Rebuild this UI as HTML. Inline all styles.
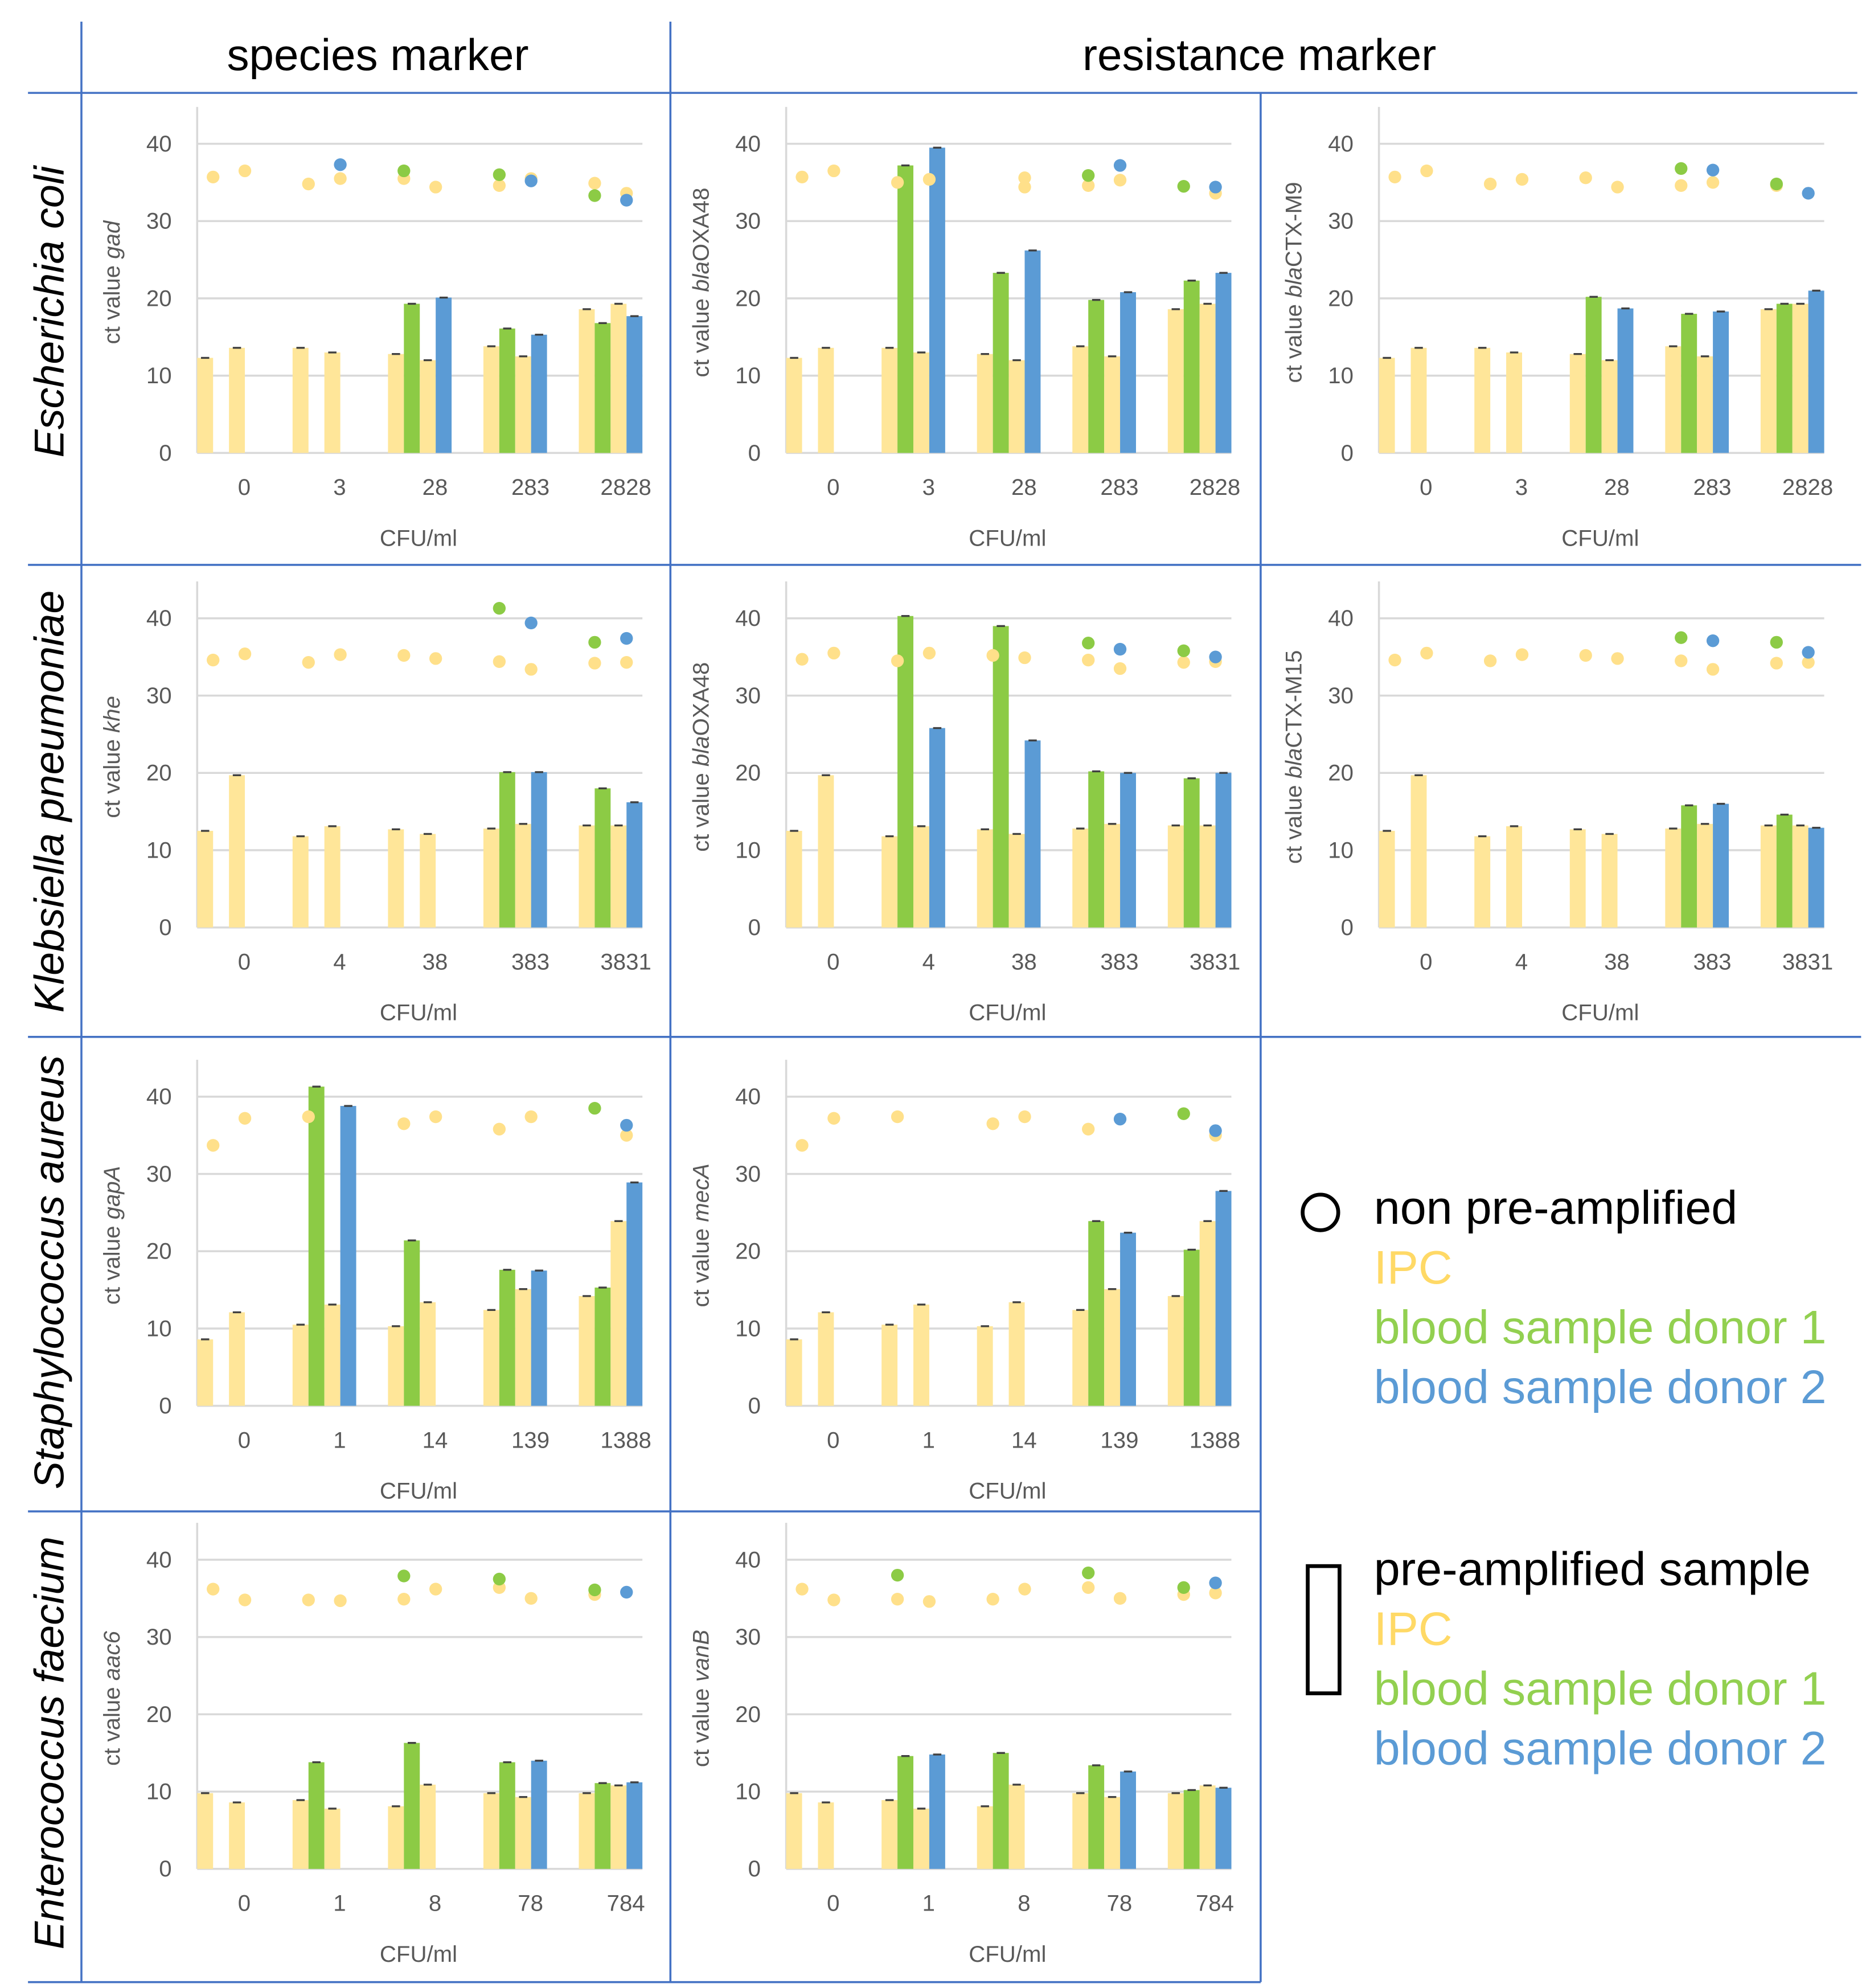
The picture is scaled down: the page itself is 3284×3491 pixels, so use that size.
<!DOCTYPE html>
<html><head><meta charset="utf-8"><style>
html,body{margin:0;padding:0;background:#fff;}
svg{display:block;}
</style></head><body>
<svg id="fig" xmlns="http://www.w3.org/2000/svg" width="3284" height="3491" viewBox="0 0 1470 1562.6" font-family="Liberation Sans, sans-serif">
<g id="grid-lines" stroke="#4472C4" stroke-width="1.6">
<line x1="64" y1="17" x2="64" y2="1558"/>
<line x1="527" y1="17" x2="527" y2="1558"/>
<line x1="991" y1="73" x2="991" y2="1558"/>
<line x1="22" y1="73" x2="1460" y2="73"/>
<line x1="22" y1="444" x2="1463" y2="444"/>
<line x1="22" y1="815" x2="1463" y2="815"/>
<line x1="22" y1="1188" x2="991" y2="1188"/>
<line x1="22" y1="1558" x2="991" y2="1558"/>
</g>
<text x="297" y="55" font-size="35" text-anchor="middle">species marker</text>
<text x="990" y="55" font-size="35" text-anchor="middle">resistance marker</text>
<text transform="translate(50,245) rotate(-90)" font-size="33" font-style="italic" text-anchor="middle">Escherichia coli</text>
<text transform="translate(50,630) rotate(-90)" font-size="33" font-style="italic" text-anchor="middle">Klebsiella pneumoniae</text>
<text transform="translate(50,1000) rotate(-90)" font-size="33" font-style="italic" text-anchor="middle">Staphylococcus aureus</text>
<text transform="translate(50,1370) rotate(-90)" font-size="33" font-style="italic" text-anchor="middle">Enterococcus faecium</text>
<g id="charts"></g>
<g font-size="37">
<circle cx="1038" cy="953" r="14" fill="none" stroke="#000" stroke-width="3"/>
<text x="1080" y="962" fill="#000">non pre-amplified</text>
<text x="1080" y="1009" fill="#FFD966">IPC</text>
<text x="1080" y="1056" fill="#92D050">blood sample donor 1</text>
<text x="1080" y="1103" fill="#5B9BD5">blood sample donor 2</text>
<rect x="1028" y="1231" width="25" height="100" fill="none" stroke="#000" stroke-width="3"/>
<text x="1080" y="1246" fill="#000">pre-amplified sample</text>
<text x="1080" y="1293" fill="#FFD966">IPC</text>
<text x="1080" y="1340" fill="#92D050">blood sample donor 1</text>
<text x="1080" y="1387" fill="#5B9BD5">blood sample donor 2</text>
</g>
</svg>
<script>
const N = null;
const ticks = [0, 10, 20, 30, 40];
// Panel 1: E. coli gad
const p1_cats = ["0","3","28","283","2828"];
const p1_y1 = [12.3,13.6,12.8,13.8,18.6];
const p1_g = [N,N,19.3,16.1,16.8];
const p1_y2 = [13.6,13.0,12.0,12.5,19.3];
const p1_b = [N,N,20.1,15.3,17.7];
const p1_dy1 = [35.7,34.8,35.5,34.6,34.9];
const p1_dg = [N,N,36.5,36.0,33.3];
const p1_dy2 = [36.5,35.5,34.4,35.5,33.6];
const p1_db = [N,37.3,N,35.2,32.7];
// Panel 2: E. coli blaOXA48
const p2_cats = ["0","3","28","283","2828"];
const p2_y1 = [12.3,13.6,12.8,13.8,18.6];
const p2_g = [N,37.2,23.3,19.8,22.3];
const p2_y2 = [13.6,13.0,12.0,12.5,19.3];
const p2_b = [N,39.5,26.2,20.8,23.3];
const p2_dy1 = [35.7,35.0,N,34.6,N];
const p2_dg = [N,N,N,35.9,34.5];
const p2_dy2 = [36.5,35.4,34.4,35.3,33.6];
const p2_db = [N,N,N,37.2,34.4];
const p2_dy1b = [N,N,35.6,N,N];
// Panel 3: E. coli blaCTX-M9
const p3_cats = ["0","3","28","283","2828"];
const p3_y1 = [12.3,13.6,12.8,13.8,18.6];
const p3_g = [N,N,20.2,18.0,19.3];
const p3_y2 = [13.6,13.0,12.0,12.5,19.3];
const p3_b = [N,N,18.7,18.3,21.0];
const p3_dy1 = [35.7,34.8,35.6,34.6,34.6];
const p3_dg = [N,N,N,36.8,34.8];
const p3_dy2 = [36.5,35.4,34.4,35.0,N];
const p3_db = [N,N,N,36.6,33.6];
// Panel 4: Klebsiella khe
const p4_cats = ["0","4","38","383","3831"];
const p4_y1 = [12.5,11.8,12.7,12.8,13.2];
const p4_g = [N,N,N,20.1,18.0];
const p4_y2 = [19.7,13.1,12.1,13.4,13.2];
const p4_b = [N,N,N,20.1,16.2];
const p4_dy1 = [34.6,34.3,35.2,34.4,34.2];
const p4_dg = [N,N,N,41.3,36.9];
const p4_dy2 = [35.4,35.3,34.8,33.4,34.3];
const p4_db = [N,N,N,39.4,37.4];
// Panel 5: Klebsiella blaOXA48
const p5_cats = ["0","4","38","383","3831"];
const p5_y1 = [12.5,11.8,12.7,12.8,13.2];
const p5_g = [N,40.3,39.0,20.2,19.3];
const p5_y2 = [19.7,13.1,12.1,13.4,13.2];
const p5_b = [N,25.8,24.2,20.0,20.0];
const p5_dy1 = [34.7,34.5,35.2,34.6,34.3];
const p5_dg = [N,N,N,36.8,35.8];
const p5_dy2 = [35.5,35.5,34.9,33.5,34.4];
const p5_db = [N,N,N,36.0,35.0];
// Panel 6: Klebsiella blaCTX-M15
const p6_cats = ["0","4","38","383","3831"];
const p6_y1 = [12.5,11.8,12.7,12.8,13.2];
const p6_g = [N,N,N,15.8,14.6];
const p6_y2 = [19.7,13.1,12.1,13.4,13.2];
const p6_b = [N,N,N,16.0,12.9];
const p6_dy1 = [34.6,34.5,35.2,34.5,34.2];
const p6_dg = [N,N,N,37.5,36.9];
const p6_dy2 = [35.5,35.3,34.8,33.4,34.3];
const p6_db = [N,N,N,37.1,35.6];
// Panel 7: Staph gapA
const p7_cats = ["0","1","14","139","1388"];
const p7_y1 = [8.6,10.5,10.3,12.4,14.2];
const p7_g = [N,41.3,21.4,17.6,15.3];
const p7_y2 = [12.1,13.1,13.4,15.1,23.9];
const p7_b = [N,38.8,N,17.5,28.9];
const p7_dy1 = [33.7,37.4,36.5,35.8,N];
const p7_dg = [N,N,N,N,38.5];
const p7_dy2 = [37.2,N,37.4,37.4,35.0];
const p7_db = [N,N,N,N,36.3];
// Panel 8: Staph mecA
const p8_cats = ["0","1","14","139","1388"];
const p8_y1 = [8.6,10.5,10.3,12.4,14.2];
const p8_g = [N,N,N,23.9,20.2];
const p8_y2 = [12.1,13.1,13.4,15.1,23.9];
const p8_b = [N,N,N,22.4,27.8];
const p8_dy1 = [33.7,37.4,36.5,35.8,N];
const p8_dg = [N,N,N,N,37.8];
const p8_dy2 = [37.2,N,37.4,N,35.0];
const p8_db = [N,N,N,37.1,35.6];
// Panel 9: Enterococcus aac6
const p9_cats = ["0","1","8","78","784"];
const p9_y1 = [9.8,8.9,8.1,9.8,9.8];
const p9_g = [N,13.8,16.3,13.8,11.1];
const p9_y2 = [8.6,7.8,10.9,9.3,10.8];
const p9_b = [N,N,N,14.0,11.2];
const p9_dy1 = [36.2,34.8,34.9,36.4,35.5];
const p9_dg = [N,N,37.9,37.5,36.1];
const p9_dy2 = [34.8,34.7,36.2,35.0,N];
const p9_db = [N,N,N,N,35.8];
// Panel 10: Enterococcus vanB
const p10_cats = ["0","1","8","78","784"];
const p10_y1 = [9.8,8.9,8.1,9.8,9.8];
const p10_g = [N,14.6,15.0,13.4,10.2];
const p10_y2 = [8.6,7.8,10.9,9.3,10.8];
const p10_b = [N,14.8,N,12.6,10.5];
const p10_dy1 = [36.2,34.9,34.9,36.4,35.5];
const p10_dg = [N,38.0,N,38.3,36.4];
const p10_dy2 = [34.8,34.6,36.2,35.0,35.7];
const p10_db = [N,N,N,N,37.0];

const YEL="#FFE699", YELD="#FFE08A", GRN="#8CCB45", BLU="#5B9BD5";
const NS="http://www.w3.org/2000/svg";
const root=document.getElementById('charts');
function el(tag,attrs,parent){const e=document.createElementNS(NS,tag);for(const k in attrs)e.setAttribute(k,attrs[k]);parent.appendChild(e);return e;}

const panels=[
 {id:'ecoli-gad',x:155,y0:356,cats:p1_cats,bars:[p1_y1,p1_g,p1_y2,p1_b],dots:[p1_dy1,p1_dy2,p1_dg,p1_db],gene:['gad'],extra:null},
 {id:'ecoli-oxa48',x:618,y0:356,cats:p2_cats,bars:[p2_y1,p2_g,p2_y2,p2_b],dots:[p2_dy1,p2_dy2,p2_dg,p2_db],gene:['bla','OXA48'],extra:p2_dy1b},
 {id:'ecoli-ctxm9',x:1084,y0:356,cats:p3_cats,bars:[p3_y1,p3_g,p3_y2,p3_b],dots:[p3_dy1,p3_dy2,p3_dg,p3_db],gene:['bla','CTX-M9'],extra:null},
 {id:'kleb-khe',x:155,y0:729,cats:p4_cats,bars:[p4_y1,p4_g,p4_y2,p4_b],dots:[p4_dy1,p4_dy2,p4_dg,p4_db],gene:['khe'],extra:null},
 {id:'kleb-oxa48',x:618,y0:729,cats:p5_cats,bars:[p5_y1,p5_g,p5_y2,p5_b],dots:[p5_dy1,p5_dy2,p5_dg,p5_db],gene:['bla','OXA48'],extra:null},
 {id:'kleb-ctxm15',x:1084,y0:729,cats:p6_cats,bars:[p6_y1,p6_g,p6_y2,p6_b],dots:[p6_dy1,p6_dy2,p6_dg,p6_db],gene:['bla','CTX-M15'],extra:null},
 {id:'staph-gapa',x:155,y0:1105,cats:p7_cats,bars:[p7_y1,p7_g,p7_y2,p7_b],dots:[p7_dy1,p7_dy2,p7_dg,p7_db],gene:['gapA'],extra:null},
 {id:'staph-meca',x:618,y0:1105,cats:p8_cats,bars:[p8_y1,p8_g,p8_y2,p8_b],dots:[p8_dy1,p8_dy2,p8_dg,p8_db],gene:['mecA'],extra:null},
 {id:'entero-aac6',x:155,y0:1469,cats:p9_cats,bars:[p9_y1,p9_g,p9_y2,p9_b],dots:[p9_dy1,p9_dy2,p9_dg,p9_db],gene:['aac6'],extra:null},
 {id:'entero-vanb',x:618,y0:1469,cats:p10_cats,bars:[p10_y1,p10_g,p10_y2,p10_b],dots:[p10_dy1,p10_dy2,p10_dg,p10_db],gene:['vanB'],extra:null}
];
const barColors=[YEL,GRN,YEL,BLU];
const barNames=['ipc-1','donor1','ipc-2','donor2'];
const dotColors=[YELD,YELD,GRN,BLU];
const dotNames=['ipc-1','ipc-2','donor1','donor2'];
const dotOffsets=[12.5,37.5,12.5,37.5];

panels.forEach(p=>{
  const g=el('g',{},root);
  
  
  const W=350, GW=75, BW=12.5;
  const ys=v=>p.y0 - v*6.075;
  const xs=i=>p.x + i*GW;
  ticks.forEach(t=>{
    if(t>0){const l=el('line',{x1:p.x,x2:p.x+W,y1:ys(t),y2:ys(t),stroke:'#D9D9D9','stroke-width':1.6},g);
      
      }
    const tx=el('text',{x:p.x-20,y:ys(t)+6,'font-size':18,'text-anchor':'end',fill:'#595959'},g);
    tx.textContent=t;
    
    
  });
  const ax=el('line',{x1:p.x,x2:p.x,y1:p.y0-272,y2:p.y0,stroke:'#D9D9D9','stroke-width':1.6},g);
  
  
  const bx=el('line',{x1:p.x,x2:p.x+W,y1:p.y0,y2:p.y0,stroke:'#D9D9D9','stroke-width':1.6},g);
  
  
  p.cats.forEach((c,i)=>{
    const t=el('text',{x:xs(i)+37,y:p.y0+33,'font-size':18,'text-anchor':'middle',fill:'#595959'},g);
    t.textContent=c;
    
    
  });
  const xt=el('text',{x:p.x+174,y:p.y0+73,'font-size':18,'text-anchor':'middle',fill:'#595959'},g);
  xt.textContent='CFU/ml';
  
  
  const yt=el('text',{transform:`translate(${p.x-61},${p.y0-134}) rotate(-90)`,'font-size':18,'text-anchor':'middle',fill:'#595959'},g);
  
  
  const s1=el('tspan',{},yt); s1.textContent='ct value ';
  const s2=el('tspan',{'font-style':'italic'},yt); s2.textContent=p.gene[0];
  if(p.gene[1]){const s3=el('tspan',{},yt); s3.textContent=p.gene[1];}
  p.bars.forEach((arr,k)=>{
    arr.forEach((v,i)=>{
      if(v==null) return;
      const x=xs(i)+k*BW;
      const r=el('rect',{x:x,y:ys(v),width:BW,height:p.y0-ys(v),fill:barColors[k]},g);
      
      
      const e=el('line',{x1:x+3,x2:x+BW-3,y1:ys(v),y2:ys(v),stroke:'#404040','stroke-width':1.5},g);
      
      
    });
  });
  const drawDots=(arr,off,col,name)=>{
    arr.forEach((v,i)=>{
      if(v==null) return;
      const c=el('circle',{cx:xs(i)+off,cy:ys(v),r:5,fill:col},g);
      
      
    });
  };
  p.dots.forEach((arr,k)=>drawDots(arr,dotOffsets[k],dotColors[k],dotNames[k]));
  if(p.extra) drawDots(p.extra,37.5,YELD,'ipc-extra');
});
</script>
</body></html>
